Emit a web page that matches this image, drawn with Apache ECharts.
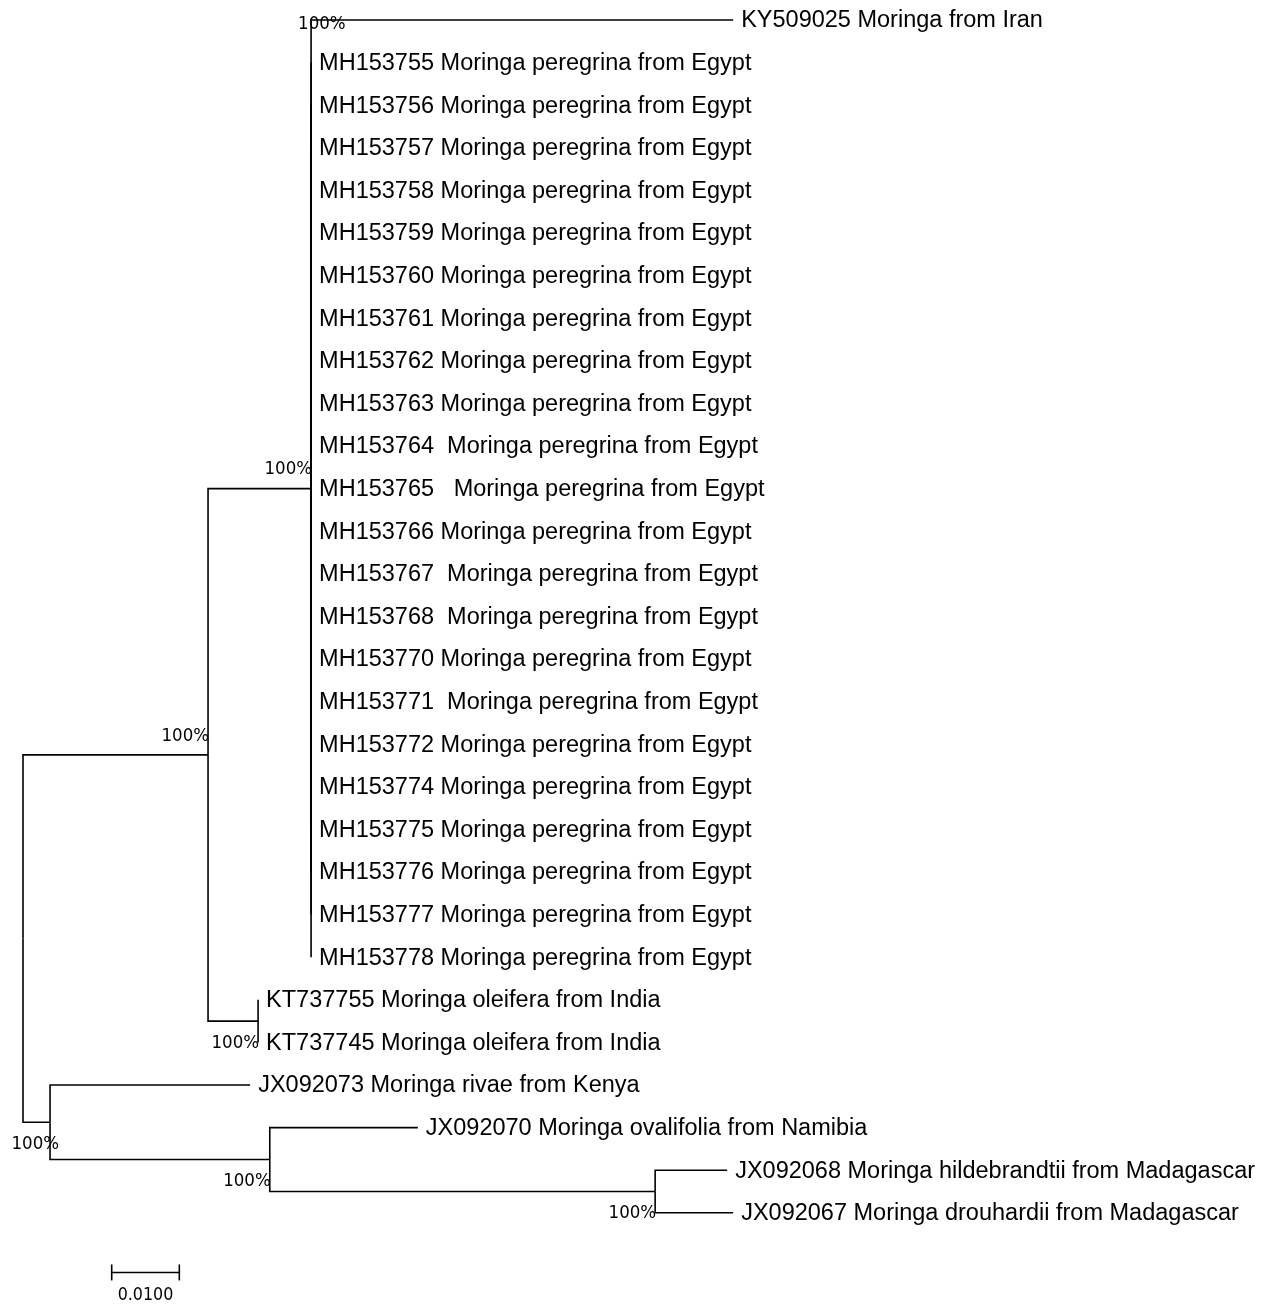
<!DOCTYPE html>
<html>
<head>
<meta charset="utf-8">
<script src="https://cdn.jsdelivr.net/npm/echarts@6/dist/echarts.min.js"></script>
<style>
html,body{margin:0;padding:0;background:#fff;}
#chart{width:1269px;height:1306px;}
</style>
</head>
<body>
<div id="chart"></div>
<script>
// ---------- DATA ----------
const egyptTaxa = [
  'MH153755 Moringa peregrina from Egypt',
  'MH153756 Moringa peregrina from Egypt',
  'MH153757 Moringa peregrina from Egypt',
  'MH153758 Moringa peregrina from Egypt',
  'MH153759 Moringa peregrina from Egypt',
  'MH153760 Moringa peregrina from Egypt',
  'MH153761 Moringa peregrina from Egypt',
  'MH153762 Moringa peregrina from Egypt',
  'MH153763 Moringa peregrina from Egypt',
  'MH153764  Moringa peregrina from Egypt',
  'MH153765   Moringa peregrina from Egypt',
  'MH153766 Moringa peregrina from Egypt',
  'MH153767  Moringa peregrina from Egypt',
  'MH153768  Moringa peregrina from Egypt',
  'MH153770 Moringa peregrina from Egypt',
  'MH153771  Moringa peregrina from Egypt',
  'MH153772 Moringa peregrina from Egypt',
  'MH153774 Moringa peregrina from Egypt',
  'MH153775 Moringa peregrina from Egypt',
  'MH153776 Moringa peregrina from Egypt',
  'MH153777 Moringa peregrina from Egypt',
  'MH153778 Moringa peregrina from Egypt'
];
const iranTaxon = 'KY509025 Moringa from Iran';
const indiaTaxa = ['KT737755 Moringa oleifera from India', 'KT737745 Moringa oleifera from India'];
const otherTaxa = [
  'JX092073 Moringa rivae from Kenya',
  'JX092070 Moringa ovalifolia from Namibia',
  'JX092068 Moringa hildebrandtii from Madagascar',
  'JX092067 Moringa drouhardii from Madagascar'
];
// edges: [parent, child, branch length (substitutions/site)], children in display order
const edges = [
  ['root', 'n1', 0.02737],
  ['n1', 'n2', 0.01524],
  ['n2', iranTaxon, 0.06243]
].concat(egyptTaxa.map(t => ['n2', t, 0])).concat([
  ['n1', 'n3', 0.0074],
  ['n3', indiaTaxa[0], 0],
  ['n3', indiaTaxa[1], 0],
  ['root', 'n4', 0.0040],
  ['n4', otherTaxa[0], 0.0296],
  ['n4', 'n5', 0.0325],
  ['n5', otherTaxa[1], 0.0219],
  ['n5', 'n6', 0.0570],
  ['n6', otherTaxa[2], 0.01065],
  ['n6', otherTaxa[3], 0.01154]
]);
// bootstrap supports: anchor node (or 'edge:' + child) and value
const supportAnchors = ['edge:' + iranTaxon, 'n2', 'n1', 'n3', 'n4', 'n5', 'n6'];
const supportValues = ['100%', '100%', '100%', '100%', '100%', '100%', '100%'];
const scaleBarLength = 0.01;
const scaleBarLabel = '0.0100';

// ---------- STYLE ----------
const supportStyle = {
  ['edge:' + iranTaxon]: {dx: -13, dy: 4, align: 'left'},
  n2: {dx: 1, dy: -19, align: 'right'},
  n1: {dx: 1, dy: -19, align: 'right'},
  n3: {dx: 1, dy: 22, align: 'right'},
  n4: {dx: 9, dy: 22, align: 'right'},
  n5: {dx: 1, dy: 22, align: 'right'},
  n6: {dx: 1, dy: 22, align: 'right'}
};
const scaleBarPos = [0.01312, 29.4]; // in axis units
const leafFont = '23.5px "Liberation Sans", Arial, sans-serif';
const smallFont = '"DejaVu Sans Condensed", "DejaVu Sans", sans-serif';

// ---------- LAYOUT (data units) ----------
const children = {}, parentOf = {}, blen = {};
edges.forEach(([p, c, l]) => {
  (children[p] = children[p] || []).push(c);
  parentOf[c] = p; blen[c] = l;
});
const pos = {};
let leafIdx = 0;
const leaves = [];
function layout(node, x) {
  const kids = children[node];
  if (!kids) {
    pos[node] = [x, leafIdx++]; leaves.push(node); return;
  }
  kids.forEach(k => layout(k, x + blen[k]));
  const ys = kids.map(k => pos[k][1]);
  pos[node] = [x, (ys[0] + ys[ys.length - 1]) / 2];
}
layout('root', 0);

const edgeData = edges.map(([p, c]) => [pos[p][0], pos[p][1], pos[c][0], pos[c][1]]);
const leafData = leaves.map(n => pos[n]);
const supportData = supportAnchors.map((a, i) => {
  let xy;
  if (a.startsWith('edge:')) {
    const c = a.slice(5);
    xy = [pos[parentOf[c]][0], pos[c][1]];
  } else xy = pos[a];
  return {name: a, value: [xy[0], xy[1]], text: supportValues[i]};
});

const chart = echarts.init(document.getElementById('chart'));
chart.setOption({
  backgroundColor: '#fff',
  animation: false,
  grid: {left: 23, right: 2, top: 20, bottom: 8},
  xAxis: {type: 'value', min: 0, max: 0.184, show: false},
  yAxis: {type: 'value', min: 0, max: 30, inverse: true, show: false},
  series: [
    {
      type: 'custom',
      clip: false,
      silent: true,
      data: edgeData,
      renderItem: function (params, api) {
        const a = api.coord([api.value(0), api.value(1)]);
        const b = api.coord([api.value(2), api.value(3)]);
        return {
          type: 'polyline',
          shape: {points: [a, [a[0], b[1]], b]},
          style: {stroke: '#000', lineWidth: 1.6, fill: null}
        };
      }
    },
    {
      type: 'custom',
      clip: false,
      silent: true,
      data: leafData,
      renderItem: function (params, api) {
        const p = api.coord([api.value(0), api.value(1)]);
        return {
          type: 'text',
          style: {
            x: p[0] + 8, y: p[1] + 1, text: leaves[params.dataIndex],
            align: 'left', verticalAlign: 'middle',
            fill: '#000', font: leafFont
          }
        };
      }
    },
    {
      type: 'custom',
      clip: false,
      silent: true,
      data: supportData.map(d => d.value),
      renderItem: function (params, api) {
        const d = supportData[params.dataIndex];
        const st = supportStyle[d.name];
        const p = api.coord([api.value(0), api.value(1)]);
        return {
          type: 'text',
          style: {
            x: p[0] + st.dx, y: p[1] + st.dy, text: d.text,
            align: st.align, verticalAlign: 'middle',
            fill: '#000', font: '18.5px ' + smallFont
          }
        };
      }
    },
    {
      type: 'custom',
      clip: false,
      silent: true,
      data: [[scaleBarPos[0], scaleBarPos[1], scaleBarPos[0] + scaleBarLength]],
      renderItem: function (params, api) {
        const a = api.coord([api.value(0), api.value(1)]);
        const b = api.coord([api.value(2), api.value(1)]);
        const s = {stroke: '#000', lineWidth: 1.6};
        return {
          type: 'group',
          children: [
            {type: 'line', shape: {x1: a[0], y1: a[1], x2: b[0], y2: b[1]}, style: s},
            {type: 'line', shape: {x1: a[0], y1: a[1] - 8, x2: a[0], y2: a[1] + 8}, style: s},
            {type: 'line', shape: {x1: b[0], y1: b[1] - 8, x2: b[0], y2: b[1] + 8}, style: s},
            {type: 'text', style: {
              x: (a[0] + b[0]) / 2, y: a[1] + 23, text: scaleBarLabel,
              align: 'center', verticalAlign: 'middle',
              fill: '#000', font: '17.7px ' + smallFont
            }}
          ]
        };
      }
    }
  ]
});
</script>
</body>
</html>
